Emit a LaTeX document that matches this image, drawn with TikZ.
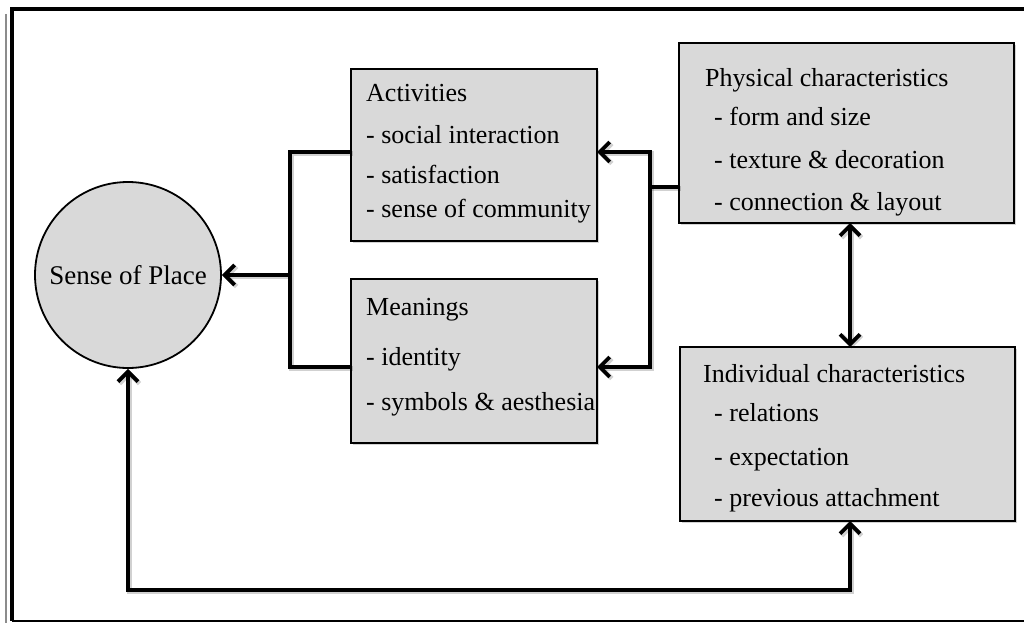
\documentclass[tikz,border=0pt]{standalone}
\usepackage{fontspec}
\setmainfont{Liberation Serif}
\usetikzlibrary{arrows.meta,shadows}
\definecolor{boxgray}{RGB}{217,217,217}
\begin{document}
\begin{tikzpicture}[x=1pt,y=-1pt,
  >={Straight Barb[length=10pt,width=20pt]},
  box/.style={draw, line width=1.8pt, fill=boxgray, anchor=north west,
    inner sep=0pt, outer sep=0pt,
    drop shadow={shadow xshift=2pt, shadow yshift=-2pt, opacity=0.35}},
  txt/.style={anchor=base west, inner sep=0pt, font=\fontsize{26}{30}\selectfont},
  conn/.style={line width=3.8pt, line join=miter,
    preaction={draw=black, opacity=0.18, line width=4.6pt,
      transform canvas={shift={(1.5pt,-1.5pt)}}}},
]
\useasboundingbox (0,0) rectangle (1024,623);

% frame
\draw[black!45, line width=2.5pt] (6,14) -- (6,623);
\draw[line width=4pt] (1030,9) -- (12,9) -- (12,621);
\draw[line width=2.5pt] (12,621) -- (1030,621);

% central circle
\node[circle, draw, line width=1.8pt, fill=boxgray, minimum size=186pt,
  inner sep=0pt, font=\fontsize{27}{30}\selectfont] (sop) at (128,275) {Sense of Place};

% boxes
\node[box, minimum width=246pt, minimum height=172pt] (act) at (351,69) {};
\node[box, minimum width=246pt, minimum height=164pt] (mean) at (351,279) {};
\node[box, minimum width=335pt, minimum height=180pt] (phys) at (679,43) {};
\node[box, minimum width=335pt, minimum height=174pt] (ind) at (680,347) {};

% box texts
\node[txt] (a0) at (366,102) {Activities};
\node[txt] (a1) at (366,143) {- social interaction};
\node[txt] (a2) at (366,183) {- satisfaction};
\node[txt] (a3) at (366,217) {- sense of community};

\node[txt] (m0) at (366,315) {Meanings};
\node[txt] (m1) at (366,365) {- identity};
\node[txt] (m2) at (366,410) {- symbols \& aesthesia};

\node[txt] (p0) at (705,87) {Physical characteristics};
\node[txt] (p1) at (714,125) {- form and size};
\node[txt] (p2) at (714,168) {- texture \& decoration};
\node[txt] (p3) at (714,210) {- connection \& layout};

\node[txt] (i0) at (703,382) {Individual characteristics};
\node[txt] (i1) at (714,421) {- relations};
\node[txt] (i2) at (714,465) {- expectation};
\node[txt] (i3) at (714,506) {- previous attachment};

% junction points
\coordinate (la) at (290,152);
\coordinate (lm) at (290,367);
\coordinate (lc) at (290,275);
\coordinate (ra) at (650,152);
\coordinate (rm) at (650,367);
\coordinate (rp) at (650,187);
\coordinate (dx) at (850,300);
\coordinate (bl) at (0,590);

% connectors
\draw[conn] (act.west |- la) -- (la) -- (lm) -- (mean.west |- lm);
\draw[conn,->] (lc) -- (sop.east);
\draw[conn,<->] (act.east |- ra) -- (ra) -- (rm) -- (mean.east |- rm);
\draw[conn] (phys.west |- rp) -- (rp);
\draw[conn,<->] (phys.south -| dx) -- (ind.north -| dx);
\draw[conn,<->] (sop.south) -- (sop.south |- bl) -- (dx |- bl) -- (ind.south -| dx);
\end{tikzpicture}
\end{document}
